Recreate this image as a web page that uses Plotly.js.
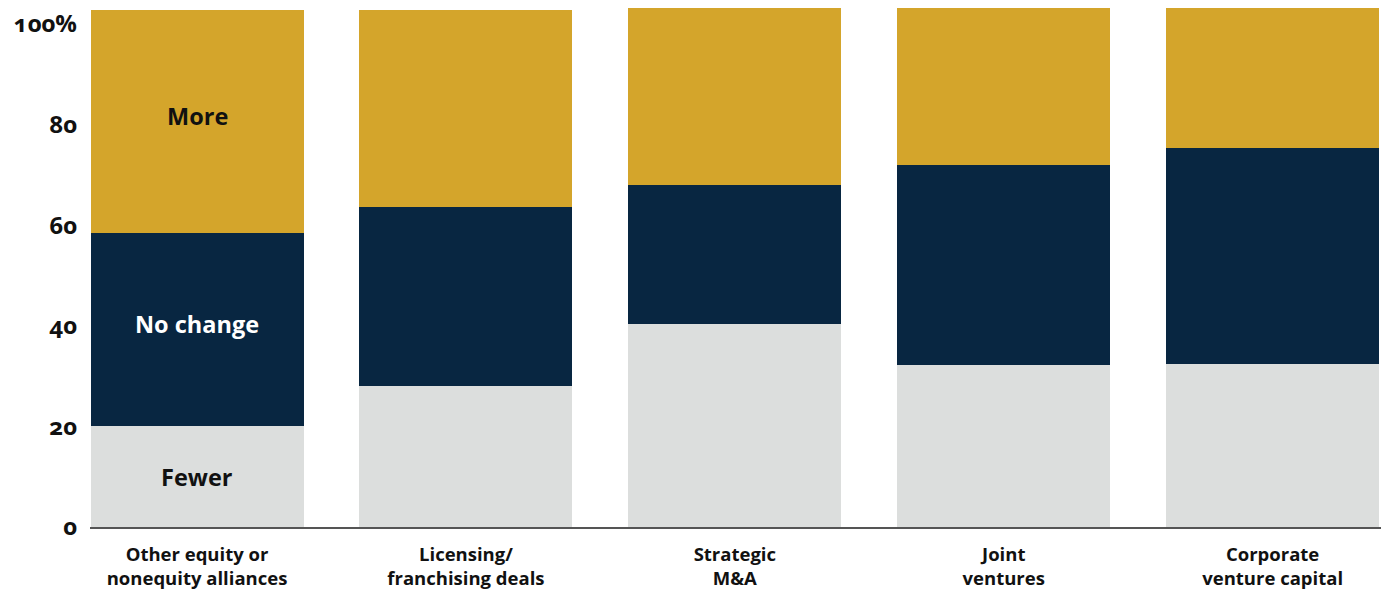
<!DOCTYPE html>
<html>
<head>
<meta charset="utf-8">
<script src="https://cdn.plot.ly/plotly-3.0.1.min.js"></script>
<style>
html,body{margin:0;padding:0;background:#fff;}
#chart{width:1386px;height:592px;}
.ytick text{font-feature-settings:"onum";}
</style>
</head>
<body>
<div id="chart"></div>
<script>
const categories = ["Other equity or<br>nonequity alliances", "Licensing/<br>franchising deals", "Strategic<br>M&A", "Joint<br>ventures", "Corporate<br>venture capital"];
const fewer = [20, 28, 40.4, 32.2, 32.4];
const noChange = [38.4, 35.6, 27.6, 39.8, 42.9];
const more = [44.4, 39.2, 35.2, 31.2, 27.9];
const seriesNames = ["Fewer", "No change", "More"];
const yTickVals = [0, 20, 40, 60, 80, 100];
const yTickText = ["0", "20", "40", "60", "80", "100%"];

const font = "Open Sans, Noto Sans, sans-serif";

const traces = [
  {type:"bar", name:seriesNames[0], x:categories, y:fewer, marker:{color:"#DCDEDD"}, hoverinfo:"y"},
  {type:"bar", name:seriesNames[1], x:categories, y:noChange, marker:{color:"#082641"}, hoverinfo:"y"},
  {type:"bar", name:seriesNames[2], x:categories, y:more, marker:{color:"#D4A52B"}, hoverinfo:"y"}
];

// in-bar labels on the first bar, centred on each segment
const c0 = categories[0];
const annotations = [
  {x:c0, y:fewer[0]/2, text:"<b>"+seriesNames[0]+"</b>", color:"#111", yshift:0},
  {x:c0, y:fewer[0]+noChange[0]/2, text:"<b>"+seriesNames[1]+"</b>", color:"#ffffff", yshift:6},
  {x:c0, y:fewer[0]+noChange[0]+more[0]/2, text:"<b>"+seriesNames[2]+"</b>", color:"#111", yshift:6}
].map(a => ({x:a.x, y:a.y, xref:"x", yref:"y", text:a.text, showarrow:false, yshift:a.yshift,
  font:{family:font, size:23.5, color:a.color}}));

const layout = {
  width:1386, height:592,
  barmode:"stack", bargap:0.208,
  showlegend:false,
  paper_bgcolor:"#fff", plot_bgcolor:"#fff",
  margin:{l:90, r:5, t:8, b:65},
  annotations: annotations,
  xaxis:{
    type:"category", range:[-0.398, 4.403],
    showline:true, linecolor:"#555", linewidth:2,
    showgrid:false, zeroline:false, ticks:"",
    tickfont:{family:font, size:18.5, color:"#111", weight:"bold"},
    ticklabelstandoff:10
  },
  yaxis:{
    range:[0,103.2], showgrid:false, zeroline:false, showline:false,
    tickvals:yTickVals, ticktext:yTickText, ticks:"",
    tickfont:{family:font, size:24, color:"#111", weight:"bold"},
    ticklabelstandoff:12
  },
  font:{family:font}
};

Plotly.newPlot("chart", traces, layout, {displayModeBar:false, staticPlot:true});
</script>
</body>
</html>
